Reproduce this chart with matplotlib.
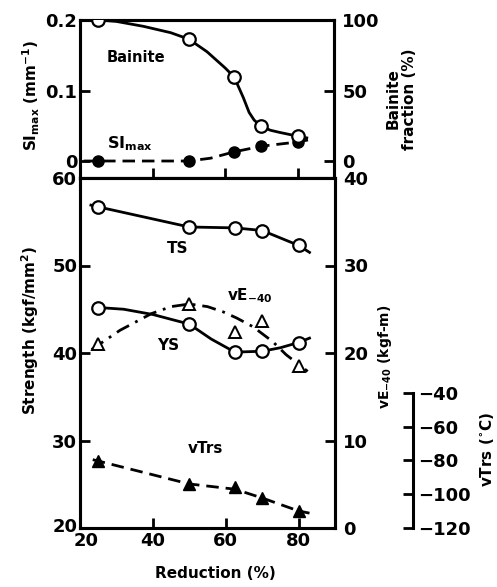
import matplotlib
matplotlib.use("Agg")
import matplotlib.pyplot as plt
from matplotlib.transforms import ScaledTranslation

# ------------------------------------------------------------
# Data: rolling reduction vs. microstructure and properties
# ------------------------------------------------------------
reduction = [25, 50, 62.5, 70, 80]

bainite_pct = [100, 86.4, 59.5, 24.5, 17.6]        # Bainite fraction (%)
si_max = [0.0, 0.0, 0.013, 0.021, 0.027]          # SI_max (1/mm)
ts = [56.7, 54.4, 54.3, 54.0, 52.3]               # tensile strength (kgf/mm2)
ys = [45.2, 43.3, 40.1, 40.2, 41.2]               # yield strength (kgf/mm2)
ve40 = [21.0, 25.6, 22.4, 23.7, 18.5]             # Charpy energy at -40 C (kgf-m)
vtrs = [-80.3, -93.9, -95.7, -102.2, -109.9]      # transition temperature (C)

# hand-drawn trend lines through the measured points
bainite_fit_x = [25, 30, 37.5, 45, 50, 55, 60, 62.5, 65, 66.6, 68, 70, 72.5, 75, 80, 82.5]
bainite_fit_y = [100, 99.0, 95.5, 91, 86.4, 77.5, 66.0, 59.5, 45, 34.5, 29, 24.5, 21.8, 20.3, 17.6, 16.4]

si_fit_x = [21, 25, 50, 56, 62.5, 70, 80, 83]
si_fit_y = [0.0, 0.0, 0.0, 0.004, 0.013, 0.021, 0.027, 0.030]

ts_fit_x = [23, 25, 50, 62.5, 70, 80, 83]
ts_fit_y = [56.9, 56.7, 54.4, 54.3, 54.0, 52.3, 51.5]

ys_fit_x = [25, 32, 40, 50, 56, 62.5, 70, 75, 80, 83]
ys_fit_y = [45.2, 45.0, 44.4, 43.3, 41.6, 40.1, 40.2, 40.6, 41.2, 41.7]

ve_fit_x = [23.2, 31, 39.6, 45, 50, 55, 59.3, 63, 67.5, 72.9, 76.6, 82.5]
ve_fit_y = [20.4, 22.6, 24.5, 25.3, 25.6, 25.3, 24.7, 24.0, 23.0, 21.3, 19.8, 17.9]

vtrs_fit_x = [23.5, 25, 50, 62.5, 70, 80, 83]
vtrs_fit_y = [-79.5, -80.3, -93.9, -97.0, -102.2, -109.9, -111.2]

# ------------------------------------------------------------
# Style
# ------------------------------------------------------------
plt.rcParams['font.family'] = 'DejaVu Sans'
plt.rcParams['font.weight'] = 'bold'
plt.rcParams['mathtext.fontset'] = 'dejavusans'
plt.rcParams['mathtext.default'] = 'bf'

W, H = 497, 587
LW = 2.0
SPINE_W = 2.2
TICK_FS = 13
LABEL_FS = 11

open_circle = dict(marker='o', ms=9, mfc='white', mec='black', mew=1.6, ls='none', zorder=5)
solid_circle = dict(marker='o', ms=8, mfc='black', mec='black', ls='none', zorder=5)
open_tri = dict(marker='^', ms=8.5, mfc='white', mec='black', mew=1.4, ls='none', zorder=5)
solid_tri = dict(marker='^', ms=9, mfc='black', mec='black', ls='none', zorder=5)
dashed = (0, (4.5, 2.5))
dash_dot = (0, (5, 2.5, 1, 2.5))


def px(x, y):
    """Pixel position -> figure fraction."""
    return x / W, 1 - y / H


def style_axes(ax):
    for s in ax.spines.values():
        s.set_linewidth(SPINE_W)
    ax.tick_params(direction='in', length=7, width=2, labelsize=TICK_FS)


def nudge(label, dx, dy):
    """Shift one tick label by (dx, dy) pixels."""
    label.set_transform(label.get_transform() + ScaledTranslation(dx / 100, dy / 100, fig.dpi_scale_trans))


fig = plt.figure(figsize=(W / 100, H / 100), dpi=100)

# ------------------------------------------------------------
# Upper panel: SI_max and bainite fraction
# ------------------------------------------------------------
ax_top = fig.add_axes([80 / W, 1 - 178 / H, 254 / W, 158 / H])
ax_top.set_xlim(20, 90)
ax_top.set_ylim(-0.0241, 0.2)
ax_top.set_yticks([0, 0.1, 0.2])
ax_top.set_yticklabels(['0', '0.1', '0.2'])
ax_top.set_xticks([20, 40, 60, 80])
style_axes(ax_top)
ax_top.tick_params(axis='x', labelbottom=False)
ax_top.tick_params(axis='y', pad=2)

ax_top.plot(si_fit_x, si_fit_y, color='black', lw=LW, ls=dashed)
ax_top.plot(reduction, si_max, **solid_circle)

ax_bf = ax_top.twinx()
ax_bf.set_ylim(-12.05, 100)
ax_bf.set_yticks([0, 50, 100])
style_axes(ax_bf)
ax_bf.tick_params(axis='y', pad=6)
ax_bf.plot(bainite_fit_x, bainite_fit_y, color='black', lw=LW)
ax_bf.plot(reduction, bainite_pct, **open_circle)

ax_top.text(27.4, 0.1475, 'Bainite', fontsize=LABEL_FS - 0.5, ha='left', va='center')
ax_top.text(27.4, 0.018, r'SI$_{\mathbf{max}}$', fontsize=LABEL_FS + 0.5, ha='left', va='baseline')

# ------------------------------------------------------------
# Lower panel: strength, vE-40 and vTrs
# ------------------------------------------------------------
ax_bot = fig.add_axes([80 / W, 1 - 528 / H, 255 / W, 350 / H])
ax_bot.set_xlim(20, 90)
ax_bot.set_ylim(20, 60)
ax_bot.set_xticks([20, 40, 60, 80])
ax_bot.set_yticks([20, 30, 40, 50, 60])
style_axes(ax_bot)
ax_bot.tick_params(axis='y', pad=2)
ax_bot.tick_params(axis='x', pad=3)

# keep the two "20" labels at the corner apart
nudge(ax_bot.get_xticklabels()[0], 6, 0)
nudge(ax_bot.get_yticklabels()[0], 0, 3)

ax_bot.plot(ts_fit_x, ts_fit_y, color='black', lw=LW)
ax_bot.plot(reduction, ts, **open_circle)
ax_bot.plot(ys_fit_x, ys_fit_y, color='black', lw=LW)
ax_bot.plot(reduction, ys, **open_circle)

ax_ve = ax_bot.twinx()
ax_ve.set_ylim(0, 40)
ax_ve.set_yticks([0, 10, 20, 30, 40])
style_axes(ax_ve)
ax_ve.tick_params(axis='y', pad=6)
ax_ve.plot(ve_fit_x, ve_fit_y, color='black', lw=LW, ls=dash_dot)
ax_ve.plot(reduction, ve40, **open_tri)

# detached vTrs scale to the right of the vE axis
ax_tr = ax_bot.twinx()
ax_tr.set_ylim(-120, 87.4)
ax_tr.spines['right'].set_position(('axes', (413 - 80) / 255))
ax_tr.spines['right'].set_bounds(-120, -40)
for side in ['top', 'left', 'bottom']:
    ax_tr.spines[side].set_visible(False)
ax_tr.set_yticks([-40, -60, -80, -100, -120])
style_axes(ax_tr)
ax_tr.tick_params(axis='y', pad=4)
ax_tr.plot(vtrs_fit_x, vtrs_fit_y, color='black', lw=LW, ls=dashed)
ax_tr.plot(reduction, vtrs, **solid_tri)

ax_bot.text(43.8, 51.9, 'TS', fontsize=LABEL_FS, ha='left', va='center')
ax_bot.text(41.1, 40.9, 'YS', fontsize=LABEL_FS, ha='left', va='center')
ax_bot.text(60.3, 46.0, r'vE$_{\mathbf{-40}}$', fontsize=LABEL_FS, ha='left', va='baseline')
ax_bot.text(49.6, 29.1, 'vTrs', fontsize=LABEL_FS, ha='left', va='center')

# ------------------------------------------------------------
# Axis titles
# ------------------------------------------------------------
fig.text(*px(31, 95), r'SI$_{\mathbf{max}}$ (mm$^{\mathbf{-1}}$)', rotation=90,
         fontsize=LABEL_FS, ha='center', va='center')
fig.text(*px(30, 330), r'Strength (kgf/mm$^{\mathbf{2}}$)', rotation=90,
         fontsize=LABEL_FS, ha='center', va='center')
fig.text(*px(401, 99), 'Bainite\nfraction (%)', rotation=90, fontsize=LABEL_FS,
         ha='center', va='center', multialignment='center', linespacing=1.1)
fig.text(*px(385, 357), r'vE$_{\mathbf{-40}}$ (kgf-m)', rotation=90,
         fontsize=LABEL_FS - 1, ha='center', va='center')
fig.text(*px(487, 449), r'vTrs ($^{\circ}$C)', rotation=90,
         fontsize=LABEL_FS, ha='center', va='center')
fig.text(*px(215, 574), 'Reduction (%)', fontsize=LABEL_FS, ha='center', va='center')

fig.savefig('out.png', dpi=100)
